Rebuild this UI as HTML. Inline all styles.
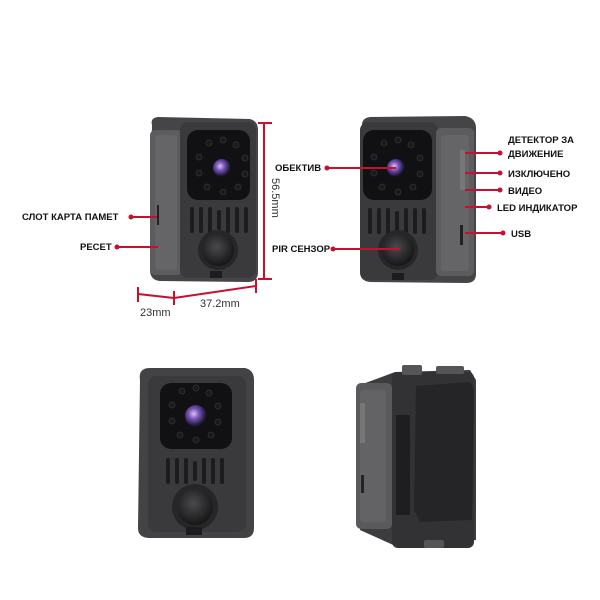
<!DOCTYPE html>
<html><head><meta charset="utf-8"><style>
html,body{margin:0;padding:0;background:#fff;width:600px;height:600px;overflow:hidden}
svg{display:block}
text{font-family:"Liberation Sans","DejaVu Sans",sans-serif;font-weight:bold;font-size:9.5px;fill:#111}
.dim{font-weight:normal;font-size:11px;fill:#333}
</style></head><body>
<svg width="600" height="600" viewBox="0 0 600 600">
<defs>
<radialGradient id="lens" cx="0.4" cy="0.4" r="0.6"><stop offset="0" stop-color="#d9c2f0"/><stop offset="0.4" stop-color="#7a55b8"/><stop offset="0.8" stop-color="#2a2350"/><stop offset="1" stop-color="#111"/></radialGradient>
<radialGradient id="pir" cx="0.45" cy="0.4" r="0.6"><stop offset="0" stop-color="#4a4a4c"/><stop offset="1" stop-color="#161617"/></radialGradient>
<g id="leds" fill="#1a1a1c" stroke="#333" stroke-width="0.8">
<circle cx="-12" cy="-24" r="3"/><circle cx="2" cy="-27" r="3"/><circle cx="15" cy="-22" r="3"/>
<circle cx="-22" cy="-10" r="3"/><circle cx="24" cy="-9" r="3"/>
<circle cx="-22" cy="6" r="3"/><circle cx="24" cy="7" r="3"/>
<circle cx="-14" cy="20" r="3"/><circle cx="2" cy="25" r="3"/><circle cx="17" cy="20" r="3"/>
</g>
<g id="vents" fill="#1c1c1e">
<rect x="-30" y="0" width="4" height="26" rx="2"/><rect x="-21" y="0" width="4" height="26" rx="2"/><rect x="-12" y="0" width="4" height="26" rx="2"/><rect x="-3" y="3" width="4" height="20" rx="2"/><rect x="6" y="0" width="4" height="26" rx="2"/><rect x="15" y="0" width="4" height="26" rx="2"/><rect x="24" y="0" width="4" height="26" rx="2"/>
</g>
</defs>

<!-- Top-left camera -->
<path d="M152 125 Q150 118 158 117 L250 119 Q258 121 258 130 L258 272 Q258 282 248 282 L160 281 Q150 280 150 270 Z" fill="#454547"/>
<rect x="150" y="130" width="32" height="145" rx="5" fill="#5c5c5f"/>
<rect x="155" y="135" width="22" height="135" rx="3" fill="#656568"/>
<rect x="180" y="122" width="76" height="156" rx="8" fill="#3a3a3c"/>
<rect x="187" y="130" width="63" height="70" rx="11" fill="#111113"/>
<use href="#leds" x="221" y="167"/>
<circle cx="222" cy="168" r="9" fill="url(#lens)"/>
<use href="#vents" x="220" y="207"/>
<circle cx="218" cy="250" r="20" fill="#262628"/>
<circle cx="218" cy="250" r="16" fill="url(#pir)"/>
<rect x="210" y="271" width="12" height="7" fill="#1c1c1e"/>
<rect x="157" y="205" width="2" height="20" fill="#222"/>
<!-- dimensions -->
<g stroke="#c8102e" stroke-width="2" fill="none">
<line x1="264" y1="123" x2="264" y2="279"/><line x1="258" y1="123" x2="272" y2="123"/><line x1="258" y1="279" x2="272" y2="279"/>
<line x1="138" y1="294" x2="174" y2="298"/><line x1="174" y1="298" x2="256" y2="286"/>
<line x1="138" y1="287" x2="138" y2="302"/><line x1="174" y1="291" x2="174" y2="305"/><line x1="256" y1="279" x2="256" y2="293"/>
<line x1="131" y1="217" x2="157" y2="217"/><line x1="117" y1="247" x2="158" y2="247"/>
</g>
<circle cx="131" cy="217" r="2.5" fill="#c8102e"/><circle cx="117" cy="247" r="2.5" fill="#c8102e"/>
<text class="dim" transform="translate(272,178) rotate(90)">56.5mm</text>
<text class="dim" x="140" y="316">23mm</text>
<text class="dim" x="200" y="307">37.2mm</text>
<text x="22" y="220">СЛОТ КАРТА ПАМЕТ</text>
<text x="80" y="250">РЕСЕТ</text>

<!-- Top-right camera -->
<path d="M362 125 Q362 118 370 117 L465 116 Q476 118 476 128 L476 274 Q476 283 466 283 L370 282 Q360 281 360 272 Z" fill="#454547"/>
<rect x="360" y="122" width="78" height="158" rx="8" fill="#3a3a3c"/>
<rect x="436" y="128" width="38" height="148" rx="5" fill="#5c5c5f"/>
<rect x="441" y="135" width="28" height="136" rx="3" fill="#656568"/>
<rect x="363" y="130" width="69" height="70" rx="11" fill="#111113"/>
<use href="#leds" x="396" y="167"/>
<circle cx="396" cy="168" r="9" fill="url(#lens)"/>
<use href="#vents" x="398" y="208"/>
<circle cx="398" cy="250" r="20" fill="#262628"/>
<circle cx="398" cy="250" r="16" fill="url(#pir)"/>
<rect x="392" y="273" width="12" height="7" fill="#1c1c1e"/>
<rect x="460" y="150" width="5" height="40" fill="#777"/>
<rect x="460" y="225" width="3" height="20" fill="#222"/>
<g stroke="#c8102e" stroke-width="2">
<line x1="327" y1="168" x2="396" y2="168"/><line x1="333" y1="249" x2="400" y2="249"/>
<line x1="465" y1="153" x2="500" y2="153"/><line x1="465" y1="173" x2="500" y2="173"/>
<line x1="465" y1="190" x2="500" y2="190"/><line x1="465" y1="207" x2="489" y2="207"/>
<line x1="465" y1="233" x2="503" y2="233"/>
</g>
<g fill="#c8102e"><circle cx="327" cy="168" r="2.5"/><circle cx="333" cy="249" r="2.5"/><circle cx="500" cy="153" r="2.5"/><circle cx="500" cy="173" r="2.5"/><circle cx="500" cy="190" r="2.5"/><circle cx="489" cy="207" r="2.5"/><circle cx="503" cy="233" r="2.5"/></g>
<text x="275" y="171">ОБЕКТИВ</text>
<text x="272" y="252">PIR СЕНЗОР</text>
<text x="508" y="143">ДЕТЕКТОР ЗА</text>
<text x="508" y="157">ДВИЖЕНИЕ</text>
<text x="508" y="177">ИЗКЛЮЧЕНО</text>
<text x="508" y="194">ВИДЕО</text>
<text x="497" y="211">LED ИНДИКАТОР</text>
<text x="511" y="237">USB</text>

<!-- Bottom-left camera -->
<path d="M140 380 Q138 368 150 368 L245 368 Q254 370 254 380 L254 528 Q254 538 244 538 L150 538 Q138 538 138 528 Z" fill="#434345"/>
<rect x="148" y="376" width="98" height="156" rx="8" fill="#3a3a3c"/>
<rect x="160" y="383" width="72" height="66" rx="11" fill="#111113"/>
<use href="#leds" x="194" y="415"/>
<circle cx="196" cy="416" r="11" fill="url(#lens)"/>
<use href="#vents" x="196" y="458"/>
<circle cx="195" cy="507" r="23" fill="#262628"/>
<circle cx="195" cy="507" r="18" fill="url(#pir)"/>
<rect x="186" y="527" width="16" height="8" fill="#1c1c1e"/>

<!-- Bottom-right camera (clip side) -->
<path d="M360 385 L395 372 L470 370 L476 380 L476 540 L400 548 L360 530 Z" fill="#3c3c3e"/>
<rect x="356" y="383" width="36" height="146" rx="5" fill="#5a5a5d"/>
<rect x="360" y="390" width="26" height="132" rx="3" fill="#636366"/>
<rect x="360" y="403" width="5" height="40" fill="#777"/>
<rect x="361" y="475" width="3" height="18" fill="#222"/>
<rect x="392" y="372" width="82" height="176" rx="6" fill="#323234"/>
<path d="M416 386 L470 382 L474 390 L472 520 L420 522 L414 510 Z" fill="#252527"/>
<rect x="396" y="415" width="14" height="100" fill="#1e1e20"/>
<rect x="402" y="365" width="20" height="10" rx="2" fill="#555"/>
<rect x="436" y="366" width="28" height="8" rx="2" fill="#555"/>
<rect x="424" y="540" width="20" height="8" rx="2" fill="#555"/>
</svg>
</body></html>
